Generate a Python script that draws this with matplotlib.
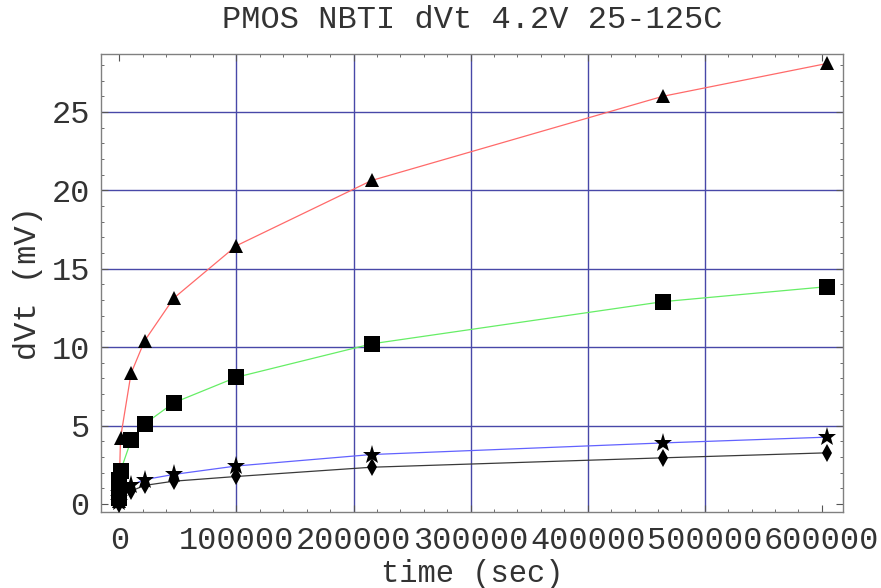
import matplotlib
matplotlib.use("Agg")
import matplotlib.pyplot as plt
from matplotlib.ticker import MultipleLocator, FuncFormatter

# stress time (sec)
time_sec = [0, 10, 100, 1000, 10000, 21544, 46416, 100000, 215443, 464159, 604800]

# dVt (mV) per series
dvt_red = [0.2, 0.8, 1.6, 4.2, 8.33, 10.4, 13.12, 16.47, 20.63, 26.0, 28.1]
dvt_green = [0.4, 0.9, 1.5, 2.1, 4.05, 5.1, 6.45, 8.08, 10.21, 12.9, 13.86]
dvt_blue = [0.15, 0.4, 0.7, 0.95, 1.2, 1.55, 1.88, 2.42, 3.15, 3.89, 4.26]
dvt_black = [0.0, 0.2, 0.4, 0.6, 0.82, 1.18, 1.45, 1.75, 2.34, 2.94, 3.26]

x_ticks = [0, 100000, 200000, 300000, 400000, 500000, 600000]
y_ticks = [0, 5, 10, 15, 20, 25]

plt.rcParams["font.family"] = ["Liberation Mono", "DejaVu Sans Mono"]

fig = plt.figure(figsize=(8.81, 5.88), dpi=100)
ax = fig.add_axes([0.1146, 0.1286, 0.8422, 0.7796])

series = [
    (dvt_red, "#ff6a6a", "^", 10),
    (dvt_green, "#66ee66", "s", 11.5),
    (dvt_blue, "#6262ff", "*", 14),
    (dvt_black, "#3a3a3a", "d", 9),
]

for vals, col, mk, ms in series:
    ax.plot(time_sec, vals, color=col, lw=0.9, zorder=3)
for vals, col, mk, ms in series:
    ax.plot(time_sec, vals, ls="none", marker=mk, ms=ms, color="black",
            markeredgewidth=0, zorder=4)

ax.set_xlim(-15700, 618000)
ax.set_ylim(-0.54, 28.7)

ax.set_xticks(x_ticks)
ax.set_yticks(y_ticks)
ax.xaxis.set_major_formatter(FuncFormatter(lambda v, p: "%d" % v))
ax.xaxis.set_minor_locator(MultipleLocator(20000))
ax.yaxis.set_minor_locator(MultipleLocator(1))

for v in [100000, 200000, 300000, 400000, 500000]:
    ax.axvline(v, color="#4848a8", lw=1.0, zorder=1)
for v in [5, 10, 15, 20, 25]:
    ax.axhline(v, color="#4848a8", lw=1.0, zorder=1)

txt = "#333333"
ax.tick_params(which="both", direction="in", top=True, right=True,
               color="#555555", labelcolor=txt, labelsize=23)
ax.tick_params(which="major", length=5, width=0.8)
ax.tick_params(which="minor", length=2.5, width=0.6)
ax.tick_params(axis="x", pad=10)
ax.tick_params(axis="y", pad=8)

for sp in ax.spines.values():
    sp.set_color("#808080")
    sp.set_linewidth(1.0)

ax.set_xlabel("time (sec)", fontsize=22, color=txt, va="center")
ax.xaxis.set_label_coords(0.5, -0.134)
ax.set_ylabel("dVt (mV)", fontsize=23, color=txt, labelpad=6)
ax.set_title("PMOS NBTI dVt 4.2V 25-125C", fontsize=23, color=txt, pad=19)

fig.savefig("out.png", dpi=100)
